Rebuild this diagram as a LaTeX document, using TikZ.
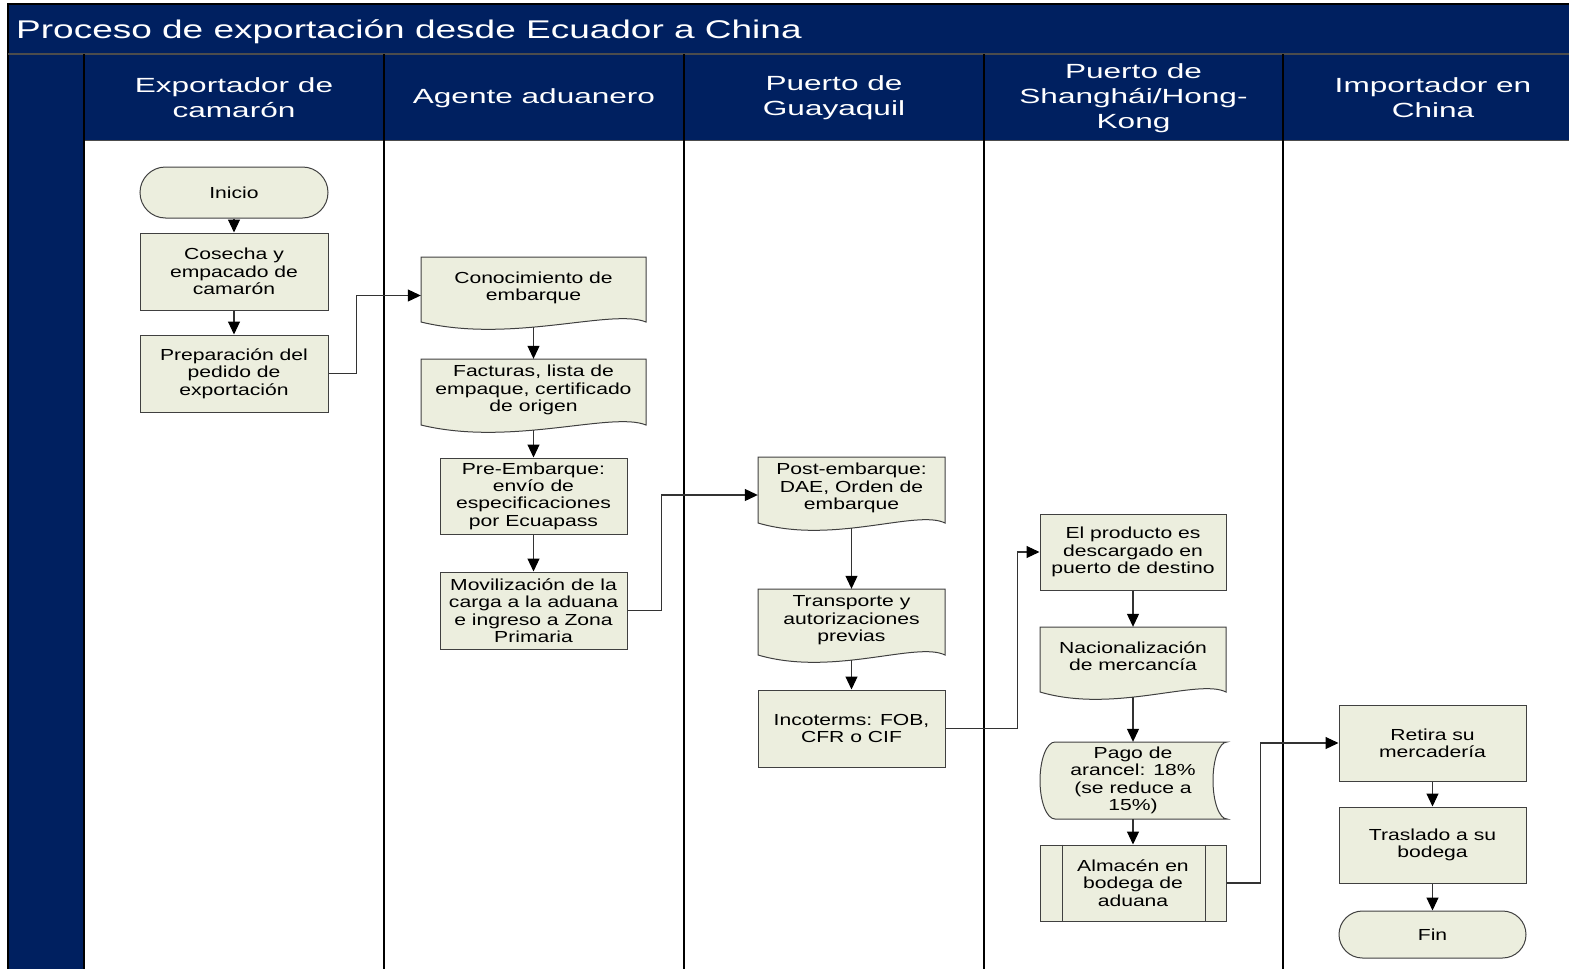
\documentclass[tikz,border=0pt]{standalone}
\usepackage{fontspec}
\setmainfont{Liberation Sans}
\newfontfamily\titlefont{Liberation Sans}[FakeStretch=1.445]
\newfontfamily\headfont{Liberation Sans}[FakeStretch=1.54]
\newfontfamily\boxfont{Liberation Sans}[FakeStretch=1.32]
\usetikzlibrary{arrows.meta,shapes.misc}

\definecolor{lanenavy}{HTML}{002060}
\definecolor{boxfill}{RGB}{236,238,222}
\definecolor{boxline}{RGB}{64,64,64}

% document symbol: flat top, wavy bottom (x0, top, x1, bottom edge)
\newcommand\docoutline[4]{%
  \path[docshape] (#1,#2) -- (#3,#2) -- (#3,#4)
    .. controls ({#1+0.85*(#3-#1)},{#4-14}) and ({#1+0.4*(#3-#1)},{#4+22}) .. (#1,#4) -- cycle;}

\tikzset{
  lanetitle/.style={text=white, align=center, inner sep=0pt,
    font=\headfont\fontsize{20.5}{25}\selectfont},
  procbox/.style={draw=boxline, fill=boxfill, line width=1pt, inner sep=0pt, align=center},
  termbox/.style={procbox, rounded rectangle},
  docnode/.style={inner sep=0pt, align=center, text depth=7pt},
  plainnode/.style={inner sep=0pt, align=center},
  docshape/.style={draw=boxline, fill=boxfill, line width=1pt},
  flow/.style={draw=black!80, line width=1.1pt,
    -{Triangle[length=13pt,width=12pt,color=black]}},
  lanerule/.style={draw=black, line width=1.4pt},
}

\begin{document}
\begin{tikzpicture}[x=1pt, y=-1pt, font=\boxfont\fontsize{16}{17.4}\selectfont]
\useasboundingbox (0,0) rectangle (1569,969);

% ---- pool frame, title bar and lane headers ----
\fill[lanenavy] (8,4) rectangle (1569,54);
\fill[lanenavy] (8,54) rectangle (84,969);
\fill[lanenavy] (84,55) rectangle (1569,140);
\draw[black, line width=1.2pt] (8,969) -- (8,4) -- (1569,4);
\draw[black!70, line width=1.2pt] (8,54) -- (1569,54);
\draw[black!70, line width=1pt] (84,140) -- (1569,140);
\foreach \lx in {84,384,684,984,1283}
  \draw[lanerule] (\lx,54) -- (\lx,969);

\node[anchor=base west, text=white, inner sep=0pt,
      font=\titlefont\fontsize{25.6}{30}\selectfont] (title) at (16,38)
  {Proceso de exportación desde Ecuador a China};

\node[lanetitle] (h1) at (234,98)    {Exportador de\\camarón};
\node[lanetitle] (h2) at (534,98)    {Agente aduanero};
\node[lanetitle] (h3) at (834,98)    {Puerto de\\Guayaquil};
\node[lanetitle] (h4) at (1133.5,98) {Puerto de\\Shanghái/Hong-\\Kong};
\node[lanetitle] (h5) at (1433,98)   {Importador en\\China};

% ---- lane 1: exportador ----
\node[termbox, minimum width=188, minimum height=51] (inicio) at (234,192.5) {Inicio};
\node[procbox, minimum width=188, minimum height=77] (cosecha) at (234,271.5)
  {Cosecha y\\empacado de\\camarón};
\node[procbox, minimum width=188, minimum height=77] (prep) at (234,373.5)
  {Preparación del\\pedido de\\exportación};

% ---- lane 2: agente aduanero ----
\docoutline{421}{257}{646}{322}
\node[docnode, minimum width=225, minimum height=65] (conoc) at (533.5,289.5)
  {Conocimiento de\\embarque};
\docoutline{421}{359}{646}{425}
\node[docnode, minimum width=225, minimum height=66] (fact) at (533.5,392)
  {Facturas, lista de\\empaque, certificado\\de origen};
\node[procbox, minimum width=187, minimum height=76] (preemb) at (533.5,496)
  {Pre-Embarque:\\envío de\\especificaciones\\por Ecuapass};
\node[procbox, minimum width=187, minimum height=77] (movil) at (533.5,610.5)
  {Movilización de la\\carga a la aduana\\e ingreso a Zona\\Primaria};

% ---- lane 3: puerto de Guayaquil ----
\docoutline{758}{457}{945}{523}
\node[docnode, minimum width=187, minimum height=66] (post) at (851.5,490)
  {Post-embarque:\\DAE, Orden de\\embarque};
\docoutline{758}{589}{945}{655}
\node[docnode, minimum width=187, minimum height=66] (transp) at (851.5,622)
  {Transporte y\\autorizaciones\\previas};
\node[procbox, minimum width=187, minimum height=77] (incot) at (851.5,728.5)
  {Incoterms: FOB,\\CFR o CIF};

% ---- lane 4: puerto de destino ----
\node[procbox, minimum width=186, minimum height=76] (prod) at (1133,552)
  {El producto es\\descargado en\\puerto de destino};
\docoutline{1040}{627}{1226}{692}
\node[docnode, minimum width=186, minimum height=65] (nac) at (1133,659.5)
  {Nacionalización\\de mercancía};
% stored-data symbol
\path[docshape] (1055,742) -- (1227,742)
  arc[start angle=-90, end angle=-270, x radius=14, y radius=38.5]
  -- (1055,819)
  arc[start angle=90, end angle=270, x radius=15, y radius=38.5] -- cycle;
\node[plainnode, minimum width=187, minimum height=77] (pago) at (1133,780.5)
  {Pago de\\arancel: 18\%\\(se reduce a\\15\%)};
% predefined-process symbol
\node[procbox, minimum width=186, minimum height=76] (almac) at (1133,883)
  {Almacén en\\bodega de\\aduana};
\draw[boxline, line width=1pt] ([xshift=23pt]almac.north west) -- ([xshift=23pt]almac.south west);
\draw[boxline, line width=1pt] ([xshift=-21pt]almac.north east) -- ([xshift=-21pt]almac.south east);

% ---- lane 5: importador ----
\node[procbox, minimum width=187, minimum height=76] (retira) at (1432.5,743)
  {Retira su\\mercadería};
\node[procbox, minimum width=187, minimum height=76] (trasl) at (1432.5,845)
  {Traslado a su\\bodega};
\node[termbox, minimum width=187, minimum height=47] (fin) at (1432.5,934.5) {Fin};

% ---- connectors ----
\draw[flow] (inicio.south) -- (cosecha.north);
\draw[flow] (cosecha.south) -- (prep.north);
\draw[flow] (prep.east) -- ++(28,0) |- ([yshift=-6pt]conoc.west);
\draw[flow] ([yshift=-5pt]conoc.south) -- (fact.north);
\draw[flow] ([yshift=-5pt]fact.south) -- (preemb.north);
\draw[flow] (preemb.south) -- (movil.north);
\draw[flow] (movil.east) -- ++(34,0) |- ([yshift=-5pt]post.west);
\draw[flow] ([yshift=-5pt]post.south) -- (transp.north);
\draw[flow] ([yshift=-5pt]transp.south) -- (incot.north);
\draw[flow] (incot.east) -- ++(72,0) |- (prod.west);
\draw[flow] (prod.south) -- (nac.north);
\draw[flow] ([yshift=-5pt]nac.south) -- (pago.north);
\draw[flow] (pago.south) -- (almac.north);
\draw[flow] (almac.east) -- ++(34,0) |- (retira.west);
\draw[flow] (retira.south) -- (trasl.north);
\draw[flow] (trasl.south) -- (fin.north);
\end{tikzpicture}
\end{document}
